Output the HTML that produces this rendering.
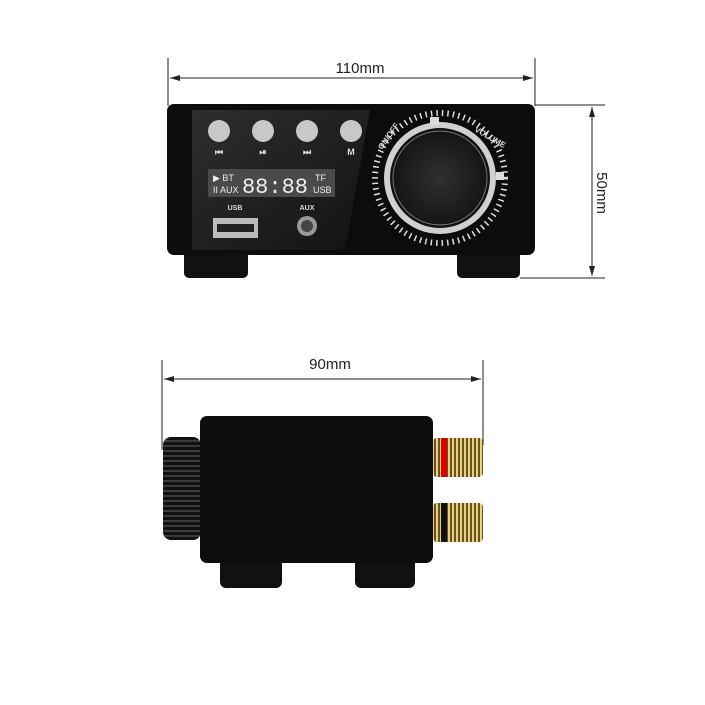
<!DOCTYPE html>
<html><head><style>
body{margin:0;background:#fff;width:705px;height:705px;overflow:hidden;position:relative;font-family:"Liberation Sans",sans-serif}
.a{position:absolute}
</style></head><body>
<svg class="a" style="left:0;top:0" width="705" height="705" viewBox="0 0 705 705">
<defs>
<linearGradient id="gl" x1="0" y1="0" x2="1" y2="1"><stop offset="0" stop-color="#2e2e2e"/><stop offset="1" stop-color="#121212"/></linearGradient>
<radialGradient id="kn" cx="0.5" cy="0.5" r="0.5"><stop offset="0" stop-color="#303030"/><stop offset="1" stop-color="#151515"/></radialGradient>
<pattern id="gold" width="4" height="4" patternUnits="userSpaceOnUse"><rect width="4" height="4" fill="#6b5418"/><rect width="2" height="4" fill="#e8d08a"/></pattern>
<pattern id="knurl" width="6" height="5" patternUnits="userSpaceOnUse"><rect width="6" height="5" fill="#111"/><rect y="0" width="6" height="2" fill="#3a3a3a"/></pattern>
</defs>
<g stroke="#222" stroke-width="1" fill="none">
<line x1="168" y1="58" x2="168" y2="106"/><line x1="535" y1="58" x2="535" y2="106"/>
<line x1="170" y1="78" x2="533" y2="78"/>
<line x1="535" y1="105" x2="605" y2="105"/><line x1="520" y1="278" x2="605" y2="278"/>
<line x1="592" y1="107" x2="592" y2="276"/>
<line x1="162" y1="360" x2="162" y2="450"/><line x1="483" y1="360" x2="483" y2="445"/>
<line x1="164" y1="379" x2="481" y2="379"/>
</g>
<g fill="#222">
<path d="M170 78 l10 -3 v6z"/><path d="M533 78 l-10 -3 v6z"/>
<path d="M592 107 l-3 10 h6z"/><path d="M592 276 l-3 -10 h6z"/>
<path d="M164 379 l10 -3 v6z"/><path d="M481 379 l-10 -3 v6z"/>
</g>
<text x="360" y="73" font-size="15" text-anchor="middle" fill="#222">110mm</text>
<text x="330" y="369" font-size="15" text-anchor="middle" fill="#222">90mm</text>
<text transform="translate(597,193) rotate(90)" font-size="15" text-anchor="middle" fill="#222">50mm</text>
<rect x="184" y="250" width="64" height="28" rx="5" fill="#111"/>
<rect x="457" y="250" width="63" height="28" rx="5" fill="#111"/>
<rect x="167" y="104" width="368" height="151" rx="7" fill="#0c0c0c"/>
<path d="M192 110 H370 L345 250 H192Z" fill="url(#gl)"/>
<g fill="#c8c8c8"><circle cx="219" cy="131" r="11"/><circle cx="263" cy="131" r="11"/><circle cx="307" cy="131" r="11"/><circle cx="351" cy="131" r="11"/></g>
<g fill="#ddd" font-size="9" font-weight="bold" text-anchor="middle"><text x="219" y="155">⏮</text><text x="263" y="155">⏯</text><text x="307" y="155">⏭</text><text x="351" y="155">M</text></g>
<rect x="208" y="169" width="127" height="28" fill="#4a4a4a"/>
<g fill="#eee" font-size="9"><text x="213" y="181">▶ BT</text><text x="213" y="193">II AUX</text><text x="315" y="181">TF</text><text x="313" y="193">USB</text></g>
<text x="275" y="193" font-size="22" fill="#eee" text-anchor="middle" font-family="Liberation Mono">88:88</text>
<g fill="#ddd" font-size="7" font-weight="bold" text-anchor="middle"><text x="235" y="210">USB</text><text x="307" y="210">AUX</text></g>
<rect x="213" y="218" width="45" height="20" fill="#bbb"/><rect x="217" y="224" width="37" height="8" fill="#222"/>
<circle cx="307" cy="226" r="10" fill="#999"/><circle cx="307" cy="226" r="6" fill="#444"/>
<circle cx="440" cy="178" r="65" fill="none" stroke="#ddd" stroke-width="6" stroke-dasharray="1.5 4"/>
<circle cx="440" cy="178" r="56" fill="#d0d0d0"/><circle cx="440" cy="178" r="50" fill="#111"/><circle cx="440" cy="178" r="47" fill="url(#kn)" stroke="#777" stroke-width="1"/>
<rect x="430" y="117" width="9" height="8" fill="#ddd"/>
<text x="474" y="131" font-size="8" fill="#ddd" font-weight="bold" transform="rotate(30,474,131)">VOLUME</text>
<text x="382" y="150" font-size="8" fill="#ddd" font-weight="bold" transform="rotate(-55,382,150)">ON/OFF</text>
<rect x="496" y="172" width="8" height="8" fill="#ddd"/>
<rect x="220" y="555" width="62" height="33" rx="6" fill="#111"/>
<rect x="355" y="555" width="60" height="33" rx="6" fill="#111"/>
<rect x="163" y="437" width="38" height="103" rx="8" fill="url(#knurl)"/>
<rect x="200" y="416" width="233" height="147" rx="7" fill="#0d0d0d"/>
<rect x="433" y="438" width="50" height="39" rx="4" fill="url(#gold)"/><rect x="441" y="438" width="6" height="39" fill="#d00"/>
<rect x="433" y="503" width="50" height="39" rx="4" fill="url(#gold)"/><rect x="441" y="503" width="6" height="39" fill="#111"/>
</svg>
</body></html>
